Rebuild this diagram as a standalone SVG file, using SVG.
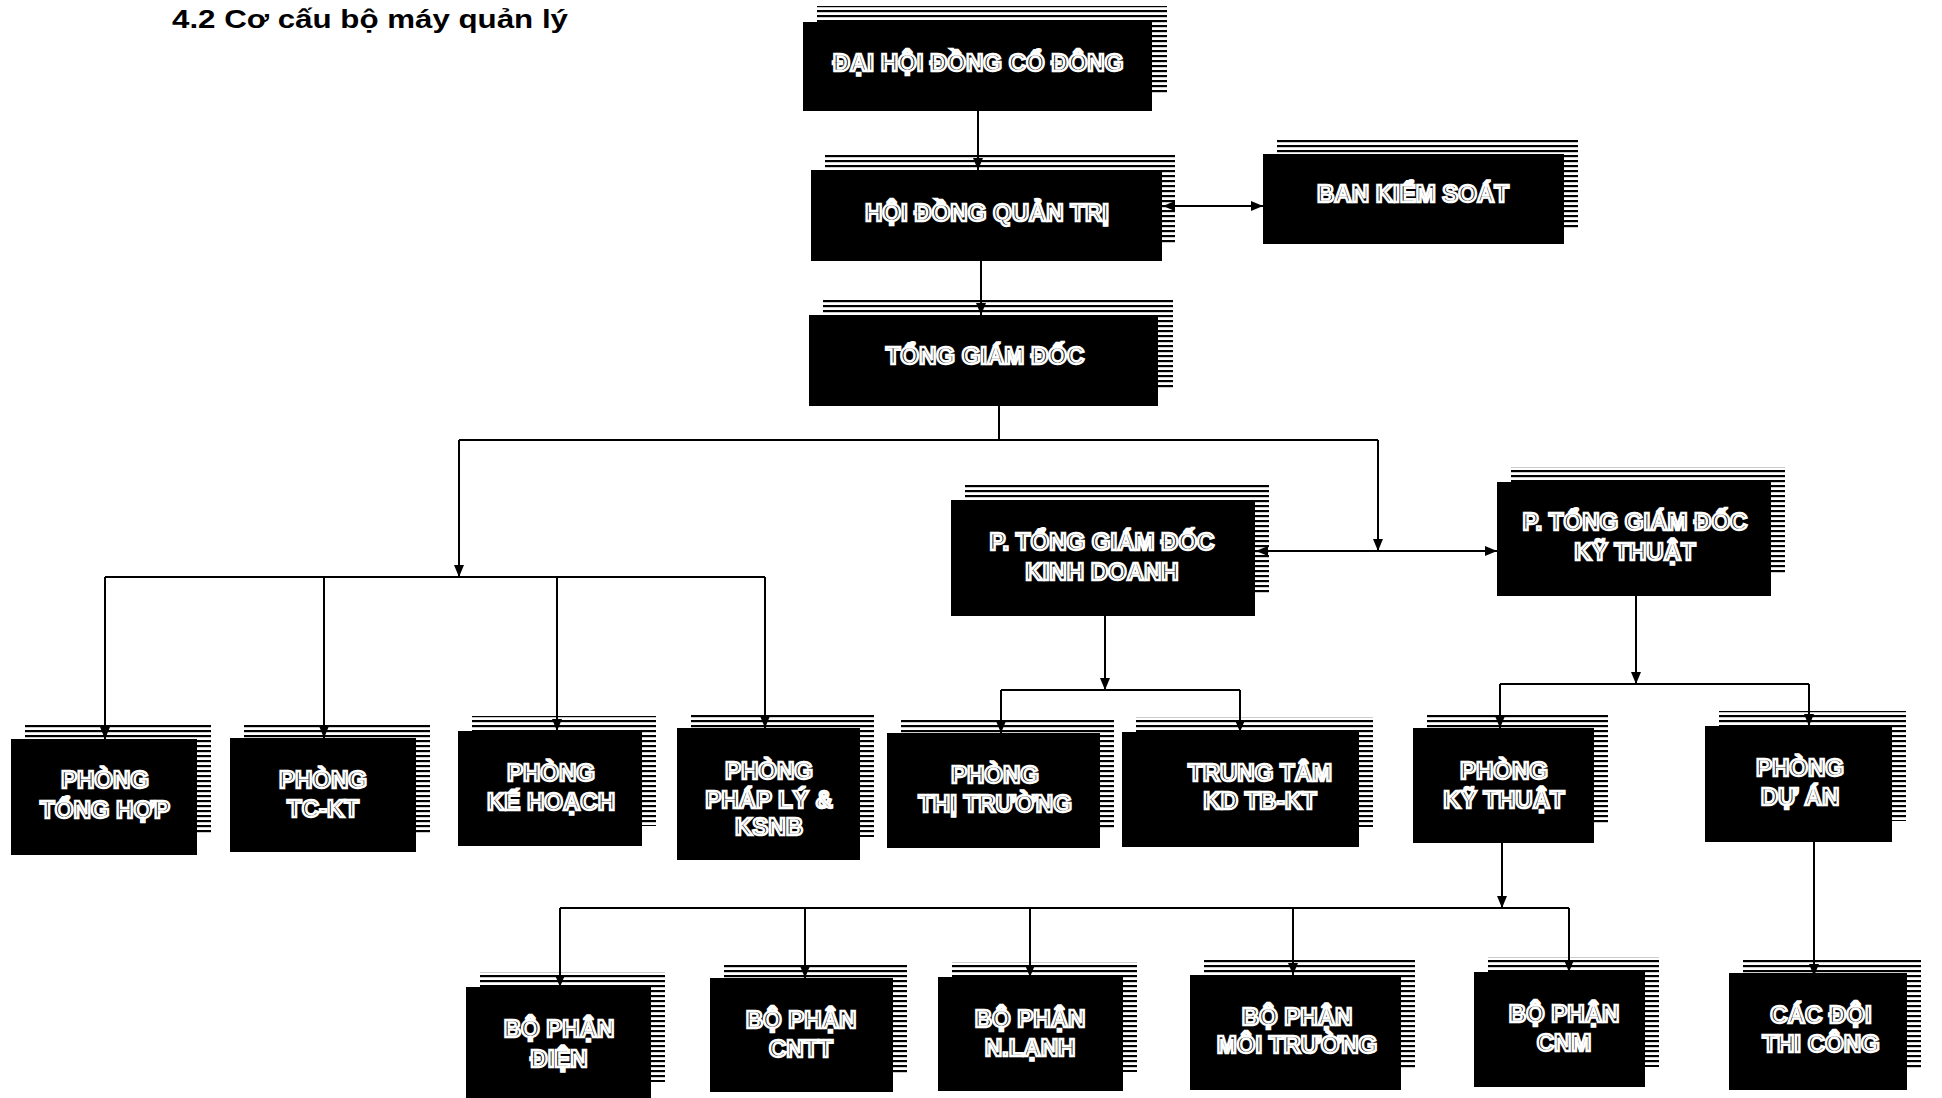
<svg xmlns="http://www.w3.org/2000/svg" width="1942" height="1098" viewBox="0 0 1942 1098">
<defs>
<pattern id="stripes" patternUnits="userSpaceOnUse" width="8" height="5">
<rect x="0" y="0" width="8" height="2.2" fill="#000"/>
</pattern>
<marker id="arr" viewBox="0 0 12 10" refX="12" refY="5" markerWidth="12" markerHeight="10" markerUnits="userSpaceOnUse" orient="auto-start-reverse">
<path d="M0,0 L12,5 L0,10 z" fill="#000"/>
</marker>
<style>
.box{fill:#000}
.sh{fill:url(#stripes)}
.t{font-family:"Liberation Sans",Arial,sans-serif;font-weight:bold;font-size:24px;fill:#000;stroke:#fff;stroke-width:2.4px;text-anchor:middle}
.c{stroke:#000;stroke-width:2;fill:none}
.a{marker-end:url(#arr)}
.b{marker-start:url(#arr);marker-end:url(#arr)}
.title{font-family:"Liberation Sans",Arial,sans-serif;font-weight:bold;font-size:25px;fill:#000}
</style>
</defs>
<rect width="1942" height="1098" fill="#fff"/>
<text class="title" x="172" y="28" textLength="396" lengthAdjust="spacingAndGlyphs">4.2 Cơ cấu bộ máy quản lý</text>

<g id="connectors">
<path class="c a" d="M978,111 V170"/>
<path class="c a" d="M981,261 V315"/>
<path class="c b" d="M1163,206 H1263"/>
<path class="c" d="M999,406 V440 M459,440 H1378"/>
<path class="c a" d="M459,440 V577"/>
<path class="c a" d="M1378,440 V551"/>
<path class="c b" d="M1256,551 H1497"/>
<path class="c" d="M105,577 H765"/>
<path class="c a" d="M105,577 V739"/>
<path class="c a" d="M324,577 V738"/>
<path class="c a" d="M557,577 V731"/>
<path class="c a" d="M765,577 V728"/>
<path class="c a" d="M1105,616 V690"/>
<path class="c" d="M1001,690 H1240"/>
<path class="c a" d="M1001,690 V733"/>
<path class="c a" d="M1240,690 V732"/>
<path class="c a" d="M1636,596 V684"/>
<path class="c" d="M1500,684 H1809"/>
<path class="c a" d="M1500,684 V728"/>
<path class="c a" d="M1809,684 V726"/>
<path class="c a" d="M1502,843 V908"/>
<path class="c" d="M560,908 H1569"/>
<path class="c a" d="M560,908 V987"/>
<path class="c a" d="M805,908 V978"/>
<path class="c a" d="M1030,908 V977"/>
<path class="c a" d="M1293,908 V975"/>
<path class="c a" d="M1569,908 V972"/>
<path class="c a" d="M1814,842 V976"/>
</g>

<g id="n1"><rect class="sh" x="817" y="6" width="350" height="88"/><rect class="box" x="803" y="22" width="349" height="89"/><text class="t" x="978" y="71" font-size="25">ĐẠI HỘI ĐỒNG CỔ ĐÔNG</text></g>
<g id="n2"><rect class="sh" x="825" y="155" width="350" height="90"/><rect class="box" x="811" y="170" width="351" height="91"/><text class="t" x="987" y="221" font-size="25">HỘI ĐỒNG QUẢN TRỊ</text></g>
<g id="n3"><rect class="sh" x="1277" y="139" width="301" height="90"/><rect class="box" x="1263" y="154" width="301" height="90"/><text class="t" x="1413" y="202" font-size="25">BAN KIỂM SOÁT</text></g>
<g id="n4"><rect class="sh" x="823" y="300" width="350" height="90"/><rect class="box" x="809" y="315" width="349" height="91"/><text class="t" x="985" y="364" font-size="25">TỔNG GIÁM ĐỐC</text></g>
<g id="n5"><rect class="sh" x="965" y="485" width="304" height="110"/><rect class="box" x="951" y="500" width="304" height="116"/><text class="t" x="1102" y="550">P. TỔNG GIÁM ĐỐC</text><text class="t" x="1102" y="580">KINH DOANH</text></g>
<g id="n6"><rect class="sh" x="1511" y="467" width="274" height="108"/><rect class="box" x="1497" y="482" width="274" height="114"/><text class="t" x="1635" y="530">P. TỔNG GIÁM ĐỐC</text><text class="t" x="1635" y="560">KỸ THUẬT</text></g>
<g id="n7"><rect class="sh" x="25" y="724" width="186" height="110"/><rect class="box" x="11" y="739" width="186" height="116"/><text class="t" x="105" y="788">PHÒNG</text><text class="t" x="105" y="818">TỔNG HỢP</text></g>
<g id="n8"><rect class="sh" x="244" y="723" width="186" height="110"/><rect class="box" x="230" y="738" width="186" height="114"/><text class="t" x="323" y="788">PHÒNG</text><text class="t" x="323" y="817">TC-KT</text></g>
<g id="n9"><rect class="sh" x="472" y="716" width="184" height="110"/><rect class="box" x="458" y="731" width="184" height="115"/><text class="t" x="551" y="781">PHÒNG</text><text class="t" x="551" y="810">KẾ HOẠCH</text></g>
<g id="n10"><rect class="sh" x="691" y="713" width="183" height="124"/><rect class="box" x="677" y="728" width="183" height="132"/><text class="t" x="769" y="779">PHÒNG</text><text class="t" x="769" y="808">PHÁP LÝ &amp;</text><text class="t" x="769" y="835">KSNB</text></g>
<g id="n11"><rect class="sh" x="901" y="718" width="213" height="110"/><rect class="box" x="887" y="733" width="213" height="115"/><text class="t" x="995" y="783">PHÒNG</text><text class="t" x="995" y="812">THỊ TRƯỜNG</text></g>
<g id="n12"><rect class="sh" x="1136" y="717" width="237" height="110"/><rect class="box" x="1122" y="732" width="237" height="115"/><text class="t" x="1260" y="781">TRUNG TÂM</text><text class="t" x="1260" y="809">KD TB-KT</text></g>
<g id="n13"><rect class="sh" x="1427" y="713" width="181" height="110"/><rect class="box" x="1413" y="728" width="181" height="115"/><text class="t" x="1504" y="779">PHÒNG</text><text class="t" x="1504" y="808">KỸ THUẬT</text></g>
<g id="n14"><rect class="sh" x="1719" y="711" width="187" height="110"/><rect class="box" x="1705" y="726" width="187" height="116"/><text class="t" x="1800" y="776">PHÒNG</text><text class="t" x="1800" y="805">DỰ ÁN</text></g>
<g id="n15"><rect class="sh" x="480" y="972" width="185" height="110"/><rect class="box" x="466" y="987" width="185" height="111"/><text class="t" x="559" y="1037">BỘ PHẬN</text><text class="t" x="559" y="1067">ĐIỆN</text></g>
<g id="n16"><rect class="sh" x="724" y="963" width="183" height="110"/><rect class="box" x="710" y="978" width="183" height="114"/><text class="t" x="801" y="1028">BỘ PHẬN</text><text class="t" x="801" y="1057">CNTT</text></g>
<g id="n17"><rect class="sh" x="952" y="962" width="185" height="110"/><rect class="box" x="938" y="977" width="185" height="114"/><text class="t" x="1030" y="1027">BỘ PHẬN</text><text class="t" x="1030" y="1056">N.LẠNH</text></g>
<g id="n18"><rect class="sh" x="1204" y="960" width="211" height="110"/><rect class="box" x="1190" y="975" width="211" height="115"/><text class="t" x="1297" y="1025">BỘ PHẬN</text><text class="t" x="1297" y="1053">MÔI TRƯỜNG</text></g>
<g id="n19"><rect class="sh" x="1488" y="957" width="171" height="110"/><rect class="box" x="1474" y="972" width="171" height="115"/><text class="t" x="1564" y="1022">BỘ PHẬN</text><text class="t" x="1564" y="1051">CNM</text></g>
<g id="n20"><rect class="sh" x="1743" y="958" width="178" height="110"/><rect class="box" x="1729" y="973" width="178" height="117"/><text class="t" x="1821" y="1023">CÁC ĐỘI</text><text class="t" x="1821" y="1052">THI CÔNG</text></g>
</svg>
